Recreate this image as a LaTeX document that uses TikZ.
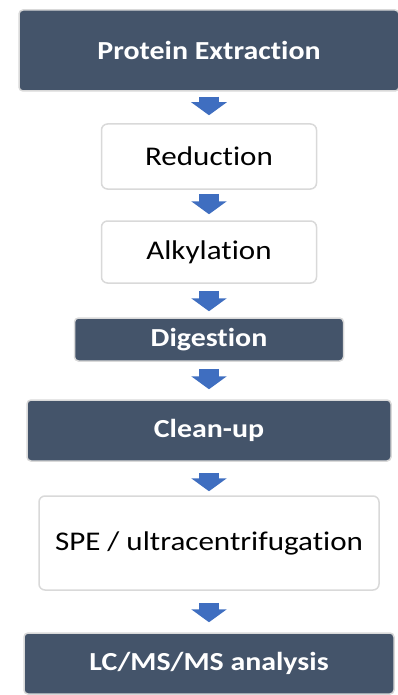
\documentclass[tikz,border=0pt]{standalone}
\usepackage{fontspec}
\setmainfont[FakeStretch=1.15,Ligatures=NoCommon]{Carlito}
\usetikzlibrary{arrows.meta}
\definecolor{slate}{HTML}{44546A}
\definecolor{rim}{HTML}{D9D9D9}
\definecolor{flowblue}{HTML}{3F6EC0}
\begin{document}
\begin{tikzpicture}[x=1pt,y=-1pt,
  darkbox/.style={draw=rim,line width=1.5pt,fill=slate,rounded corners=4pt,
    text=white,font=\fontsize{26}{30}\selectfont\bfseries},
  lightbox/.style={draw=rim,line width=1.5pt,fill=white,rounded corners=6pt,
    text=black,font=\fontsize{27}{32}\selectfont},
  flow/.style={draw=flowblue,line width=20pt,-{Triangle[width=35pt,length=13pt]}}]
\def\cx{209}
\useasboundingbox (0,0) rectangle (398,695);
\coordinate (c1) at (\cx,50.5);
\coordinate (c2) at (\cx,156.5);
\coordinate (c3) at (\cx,252);
\coordinate (c4) at (\cx,339.5);
\coordinate (c5) at (\cx,430.5);
\coordinate (c6) at (\cx,543);
\coordinate (c7) at (\cx,663.5);
\node[darkbox,minimum width=380pt,minimum height=81pt] (extract) at (c1) {Protein Extraction};
\node[lightbox,minimum width=215pt,minimum height=65pt] (reduce) at (c2) {Reduction};
\node[lightbox,minimum width=215pt,minimum height=62pt] (alkyl) at (c3) {Alkylation};
\node[darkbox,minimum width=269pt,minimum height=43pt] (digest) at (c4) {Digestion};
\node[darkbox,minimum width=364pt,minimum height=61pt] (clean) at (c5) {Clean-up};
\node[lightbox,minimum width=340pt,minimum height=94pt] (spe) at (c6) {SPE / ultracentrifugation};
\node[darkbox,minimum width=370pt,minimum height=61pt] (lcms) at (c7) {LC/MS/MS analysis};
\draw[flow,shorten <=5pt,shorten >=8pt] (extract) -- (reduce);
\draw[flow,shorten <=4pt,shorten >=6pt] (reduce) -- (alkyl);
\draw[flow,shorten <=7pt,shorten >=6pt] (alkyl) -- (digest);
\draw[flow,shorten <=7pt,shorten >=10pt] (digest) -- (clean);
\draw[flow,shorten <=11pt,shorten >=4pt] (clean) -- (spe);
\draw[flow,shorten <=12pt,shorten >=10pt] (spe) -- (lcms);
\end{tikzpicture}
\end{document}
